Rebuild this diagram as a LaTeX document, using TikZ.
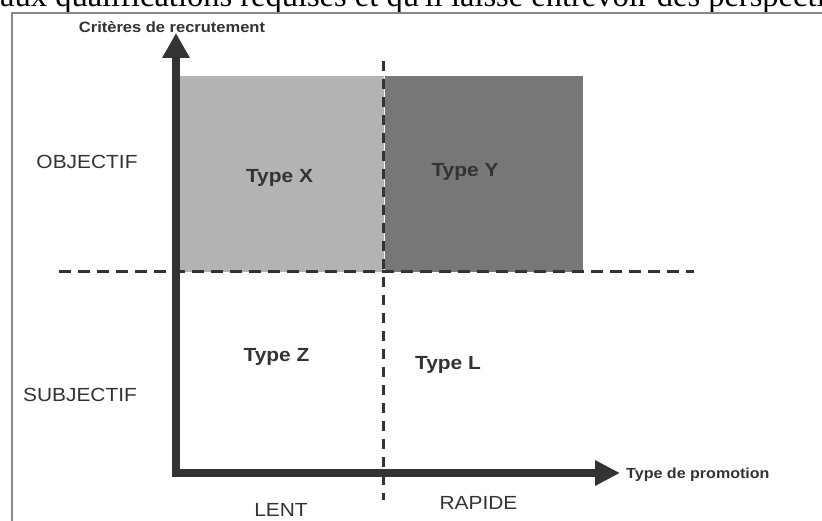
\documentclass[tikz,border=0pt]{standalone}
\usepackage{fontspec}
\setmainfont{Liberation Sans}[FakeStretch=1.1]
\newfontfamily\serifpage{Liberation Serif}
\usetikzlibrary{arrows.meta}
\definecolor{axisgray}{HTML}{333333}
\definecolor{lightbox}{HTML}{B3B3B3}
\definecolor{darkbox}{HTML}{777777}
\definecolor{framegray}{HTML}{888888}

\begin{document}
\begin{tikzpicture}[x=1pt,y=-1pt,
  lab/.style={anchor=base,inner sep=0pt,text=axisgray,font=\fontsize{19}{23}\selectfont},
  typ/.style={lab,font=\fontsize{19}{23}\selectfont\bfseries},
  axe/.style={draw=axisgray,line width=8pt},
  sep/.style={draw=axisgray,line width=3pt,dash pattern=on 12pt off 7pt}]
\clip (0,0) rectangle (822,521);
\path[fill=white] (0,0) rectangle (822,521);
% text of the page above the figure
\node[anchor=base west,inner sep=0pt,font=\serifpage\fontsize{32.5}{36}\selectfont] (page) at (0,7) {aux qualifications requises et qu'il laisse entrevoir des perspectives};
\path[draw,framegray,line width=1.5pt] (822,13) -- (12,13) -- (12,521);

% quadrants
\path[fill=lightbox] (180,76) rectangle (384,272);
\path[fill=darkbox] (385,76) rectangle (583,272);

\coordinate (h1) at (59,272);
\coordinate (h2) at (694,272);
\coordinate (v1) at (383,61);
\coordinate (v2) at (383,500);
\path[sep] (h1) -- (h2);
\path[sep,dash pattern=on 10pt off 8pt] (v1) -- (v2);

% axes
\coordinate (O) at (176,473);
\coordinate (ytip) at (176,33);
\coordinate (xtip) at (620,473);
\path[axe,{Triangle[length=25pt,width=26pt]}-{Triangle[length=25pt,width=24pt]}] (ytip) -- (O) -- (xtip);

\node[lab,font=\fontsize{15}{18}\selectfont\bfseries] (crit) at (172,33) {Critères de recrutement};
\node[lab,anchor=base west,font=\fontsize{14.6}{18}\selectfont\bfseries] (promo) at (626,478) {Type de promotion};

\node[lab] (obj) at (87,169) {OBJECTIF};
\node[lab] (subj) at (80,401) {SUBJECTIF};
\node[lab] (lent) at (281,516) {LENT};
\node[lab] (rap) at (478.5,509) {RAPIDE};

\node[typ] (X) at (279.5,183) {Type X};
\node[typ] (Y) at (465,177) {Type Y};
\node[typ] (Z) at (276.5,362) {Type Z};
\node[typ] (L) at (448,369) {Type L};
\end{tikzpicture}
\end{document}
